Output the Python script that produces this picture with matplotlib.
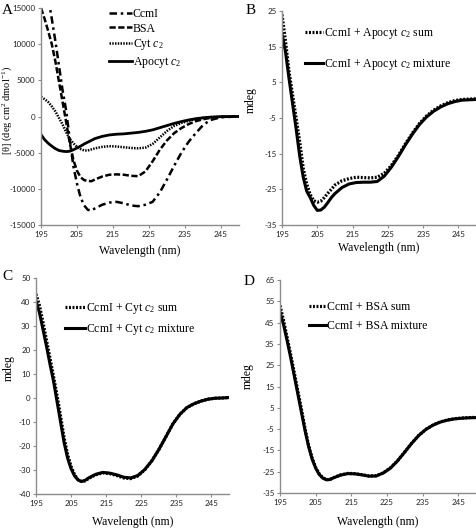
import matplotlib
matplotlib.use("Agg")
import matplotlib.pyplot as plt

plt.rcParams["mathtext.fontset"] = "custom"
plt.rcParams["mathtext.rm"] = "Liberation Serif"
plt.rcParams["mathtext.it"] = "Liberation Serif:italic"
plt.rcParams["axes.unicode_minus"] = False

# ---- Panel A: CD spectra of individual proteins
wl_a = [195, 196, 197, 198, 199, 200, 201, 202, 203, 204, 205, 206, 207, 208, 209,
        210, 212, 214, 216, 218, 220, 222, 224, 226, 228, 230, 232, 234, 236, 238,
        240, 242, 245, 250]
ccmi = [26000, 19500, 16500, 13500, 10400, 7000, 3600, 800, -3200, -6900, -9300,
        -11200, -12300, -12900, -13000, -12700, -12200, -11900, -11800, -12000,
        -12300, -12400, -12200, -11800, -10500, -8700, -6800, -5000, -3500, -2300,
        -1200, -500, -100, 0]
bsa = [15000, 13500, 11800, 10000, 7600, 4800, 2000, -800, -3700, -6000, -7500,
       -8400, -8800, -8900, -8950, -8700, -8300, -8050, -8000, -8050, -8200, -8250,
       -7600, -6200, -4600, -3300, -2300, -1600, -1050, -650, -380, -200, -60, 0]
cytc2 = [2700, 2400, 2000, 1400, 700, -200, -1100, -2200, -3100, -3700, -4200, -4500,
         -4700, -4700, -4550, -4400, -4200, -4100, -4150, -4250, -4350, -4400, -4300,
         -3800, -2900, -2000, -1300, -900, -600, -350, -200, -100, -30, 0]
apocyt = [-2500, -3200, -3700, -4100, -4450, -4700, -4800, -4850, -4800, -4600, -4350,
          -4100, -3800, -3550, -3300, -3050, -2750, -2550, -2450, -2400, -2300, -2200,
          -2050, -1850, -1550, -1250, -950, -700, -480, -300, -180, -90, -20, 0]

# ---- Panels B-D: sum vs mixture (mdeg)
wl = [195, 196, 197, 198, 199, 200, 201, 202, 203, 204, 205, 206, 207, 208, 209, 210,
      212, 214, 216, 218, 220, 222, 224, 226, 228, 230, 232, 234, 236, 238, 240, 242,
      244, 246, 248, 250]
b_sum = [24, 16.5, 8, 1.5, -5, -11.5, -19, -23.5, -26.5, -28.2, -28.6, -28.3, -27.3,
         -26.1, -25, -23.8, -22.6, -22, -21.6, -21.7, -21.8, -21.6, -20.5, -18.3,
         -15.5, -12.2, -9.2, -6.5, -4.4, -2.8, -1.6, -0.7, -0.1, 0.2, 0.3, 0.4]
b_mix = [18.5, 13.5, 6, -1, -8, -15.5, -21.5, -25.5, -27.3, -29.5, -30.9, -30.8, -30,
         -28.7, -27.3, -26.2, -24.5, -23.5, -23.1, -23, -23, -22.8, -21.3, -18.8,
         -15.8, -12.5, -9.5, -6.8, -4.7, -3.1, -1.9, -1, -0.4, 0, 0.1, 0.2]
c_sum = [43.3, 38.5, 31.5, 24, 16.5, 9, 1, -7.5, -16.5, -23.5, -28.5, -32, -34, -34.8,
         -34.5, -33.5, -32, -31.2, -31.5, -32.3, -33.3, -33.6, -32.5, -29.9, -26.2,
         -21.5, -16.2, -10.8, -6.8, -4, -2.4, -1.3, -0.5, -0.1, 0, 0.2]
c_mix = [40.5, 35.5, 28.5, 21.5, 14, 7, -1.5, -10, -18.5, -25, -29.5, -32.5, -34.2,
         -34.8, -34.3, -33.3, -31.8, -31, -31.3, -32, -33, -33.3, -32.3, -29.8, -26.2,
         -21.5, -16.2, -10.8, -6.8, -4, -2.4, -1.3, -0.5, -0.1, 0, 0.2]
d_sum = [53, 46, 38, 30, 21.5, 13, 4.5, -4.5, -12.5, -18.5, -23, -26, -27.8, -28.7,
         -28.6, -27.8, -26.5, -25.8, -25.9, -26.4, -27, -26.9, -25.5, -23.2, -19.8,
         -15.7, -11.5, -7.8, -5, -3, -1.6, -0.7, -0.1, 0.2, 0.4, 0.5]
d_mix = [50, 44, 36.5, 28.5, 20, 11.5, 3, -5.5, -13, -19, -23.3, -26.3, -28, -28.8,
         -28.7, -27.9, -26.6, -25.9, -26, -26.5, -27.1, -27, -25.6, -23.3, -19.9,
         -15.8, -11.6, -7.9, -5.1, -3.1, -1.7, -0.8, -0.2, 0.1, 0.3, 0.4]

xticks = [195, 205, 215, 225, 235, 245]
serif = "Liberation Serif"
tickfont = "Lato"

W, H = 477, 530
fig = plt.figure(figsize=(W / 100, H / 100), dpi=100)


def make_axes(l, r, t, b):
    return fig.add_axes([l / W, 1 - b / H, (r - l) / W, (b - t) / H])


def style(ax, ylim, ystep):
    ax.set_xlim(195, 250)
    ax.set_ylim(*ylim)
    ax.set_xticks(xticks)
    ax.set_yticks(range(ylim[0], ylim[1] + 1, ystep))
    for s in ["top", "right"]:
        ax.spines[s].set_visible(False)
    for s in ["left", "bottom"]:
        ax.spines[s].set_color("#8c8c8c")
        ax.spines[s].set_linewidth(1.0)
    ax.tick_params(direction="out", length=2.5, width=0.8, color="#8c8c8c",
                   labelsize=5.8, pad=1.5)
    for lab in ax.get_xticklabels() + ax.get_yticklabels():
        lab.set_family(tickfont)
        lab.set_color("#222222")
    ax.set_xlabel("Wavelength (nm)", family=serif, fontsize=8.5)


dots = (0, (0.6, 0.5))

# A
axA = make_axes(41, 239, 8, 225)
axA.plot(wl_a, ccmi, color="black", lw=1.8, ls=(0, (3, 1.5, 1, 1.5)), label="CcmI")
axA.plot(wl_a, bsa, color="black", lw=1.8, ls=(0, (2.5, 1)), label="BSA")
axA.plot(wl_a, cytc2, color="black", lw=1.8, ls=dots, label="Cyt $\\mathit{c}_2$")
axA.plot(wl_a, apocyt, color="black", lw=2.0, label="Apocyt $\\mathit{c}_2$")
style(axA, (-15000, 15000), 5000)
axA.set_ylabel("[θ] (deg cm$^2$ dmol$^{-1}$)", family=serif, fontsize=7.5)
axA.xaxis.set_label_coords(0.5, -0.09)
axA.yaxis.set_label_coords(-0.138, 0.53)
axA.legend(loc="upper left", bbox_to_anchor=(0.345, 1.0), frameon=False,
           prop={"family": serif, "size": 8.5}, handlelength=1.9,
           handletextpad=0.1, labelspacing=0.22, borderpad=0, borderaxespad=0)

panels = [
    ("B", (282, 476, 11, 225), b_sum, b_mix, (-35, 25),
     "CcmI + Apocyt $\\mathit{c}_2$", (0.12, 0.93), 1.5, 1.37,
     (-0.08, -0.13, 0.585)),
    ("C", (36, 229, 278, 494), c_sum, c_mix, (-40, 50),
     "CcmI + Cyt $\\mathit{c}_2$", (0.15, 0.895), 1.7, 0.55,
     (-0.1, -0.11, 0.583)),
    ("D", (280, 476, 280, 493), d_sum, d_mix, (-35, 65),
     "CcmI + BSA", (0.148, 0.9), 1.4, 0.55,
     (-0.11, -0.135, 0.55)),
]

for letter, box, ysum, ymix, ylim, name, anchor, hlen, lspace, labpos in panels:
    ax = make_axes(*box)
    ax.plot(wl, ysum, color="black", lw=2.3, ls=dots, label=name + " sum")
    ax.plot(wl, ymix, color="black", lw=2.2, label=name + " mixture")
    style(ax, ylim, 10)
    ax.set_ylabel("mdeg", family=serif, fontsize=8.5)
    ax.xaxis.set_label_coords(0.5, labpos[0])
    ax.yaxis.set_label_coords(labpos[1], labpos[2])
    ax.legend(loc="upper left", bbox_to_anchor=anchor, frameon=False,
              prop={"family": serif, "size": 8.5}, handlelength=hlen,
              handletextpad=0.1, labelspacing=lspace, borderpad=0, borderaxespad=0)

# panel letters
for letter, x, y in [("A", 2, 14), ("B", 246, 14), ("C", 2, 280), ("D", 244, 285)]:
    fig.text(x / W, 1 - y / H, letter, family=serif, fontsize=11, va="baseline")

fig.savefig("out.png", dpi=100)
